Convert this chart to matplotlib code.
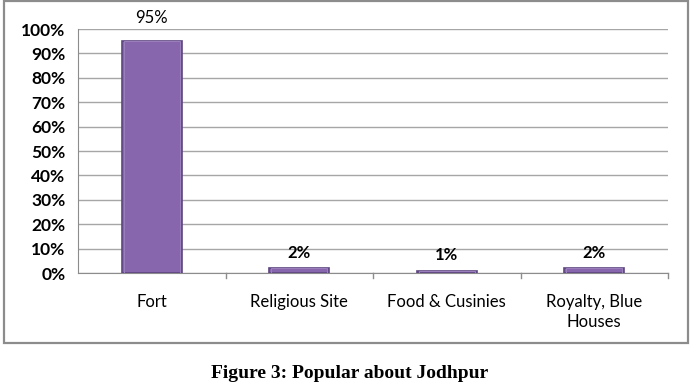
import matplotlib
matplotlib.use("Agg")
import matplotlib.pyplot as plt
from matplotlib.patches import Rectangle
from matplotlib.ticker import PercentFormatter

categories = ["Fort", "Religious Site", "Food & Cusinies", "Royalty, Blue\nHouses"]
values = [95, 2, 1, 2]
value_labels = ["95%", "2%", "1%", "2%"]
yticks = list(range(0, 101, 10))

W, H = 699, 387
fig = plt.figure(figsize=(W / 100, H / 100), dpi=100)
fig.patch.set_facecolor("white")

# outer chart frame
fig.add_artist(Rectangle((4 / W, 1 - 343 / H), 684 / W, 342 / H, transform=fig.transFigure,
                         fill=False, edgecolor="#8c8c8c", lw=1.6))

ax = fig.add_axes([78 / W, 1 - 273 / H, 590 / W, 244 / H])
x = list(range(len(categories)))
ax.bar(x, values, width=0.41, color="#8766ad", edgecolor="#5e4580", lw=1.2, zorder=3)
# light bevel highlight on top of bars
ax.bar(x, values, width=0.38, color="none", edgecolor="#9b80bd", lw=0.7, zorder=4)

for xi, v, lab in zip(x, values, value_labels):
    off = 17 if v > 50 else 11
    ax.annotate(lab, (xi, v), xytext=(0, off), textcoords="offset points",
                ha="center", va="center", fontsize=12, family="Lato",
                fontweight="normal" if v > 50 else "bold", color="black", annotation_clip=False)

ax.set_xlim(-0.5, len(categories) - 0.5)
ax.set_ylim(0, 100)
ax.set_yticks(yticks)
ax.yaxis.set_major_formatter(PercentFormatter(decimals=0))
ax.grid(axis="y", color="#a6a6a6", lw=1, zorder=0)
ax.set_axisbelow(True)

ax.set_xticks(x)
ax.set_xticklabels(categories, fontsize=12, family="Lato", linespacing=1.35)
ax.tick_params(axis="x", length=0, pad=15)
# category boundary tick marks
for b in range(1, len(categories) + 1):
    ax.plot([b - 0.5, b - 0.5], [0, -2.2], color="#8c8c8c", lw=1, clip_on=False)
ax.tick_params(axis="y", length=0, pad=9, labelsize=12.5)
for t in ax.get_yticklabels():
    t.set_family("Lato")
    t.set_fontweight("bold")

for s in ["top", "right"]:
    ax.spines[s].set_visible(False)
ax.spines["left"].set_color("#8c8c8c")
ax.spines["bottom"].set_color("#8c8c8c")

fig.text(0.5, 1 - 373 / H, "Figure 3: Popular about Jodhpur", ha="center", va="center",
         fontsize=14, fontweight="bold", family="Liberation Serif")

fig.savefig("out.png", dpi=100)
